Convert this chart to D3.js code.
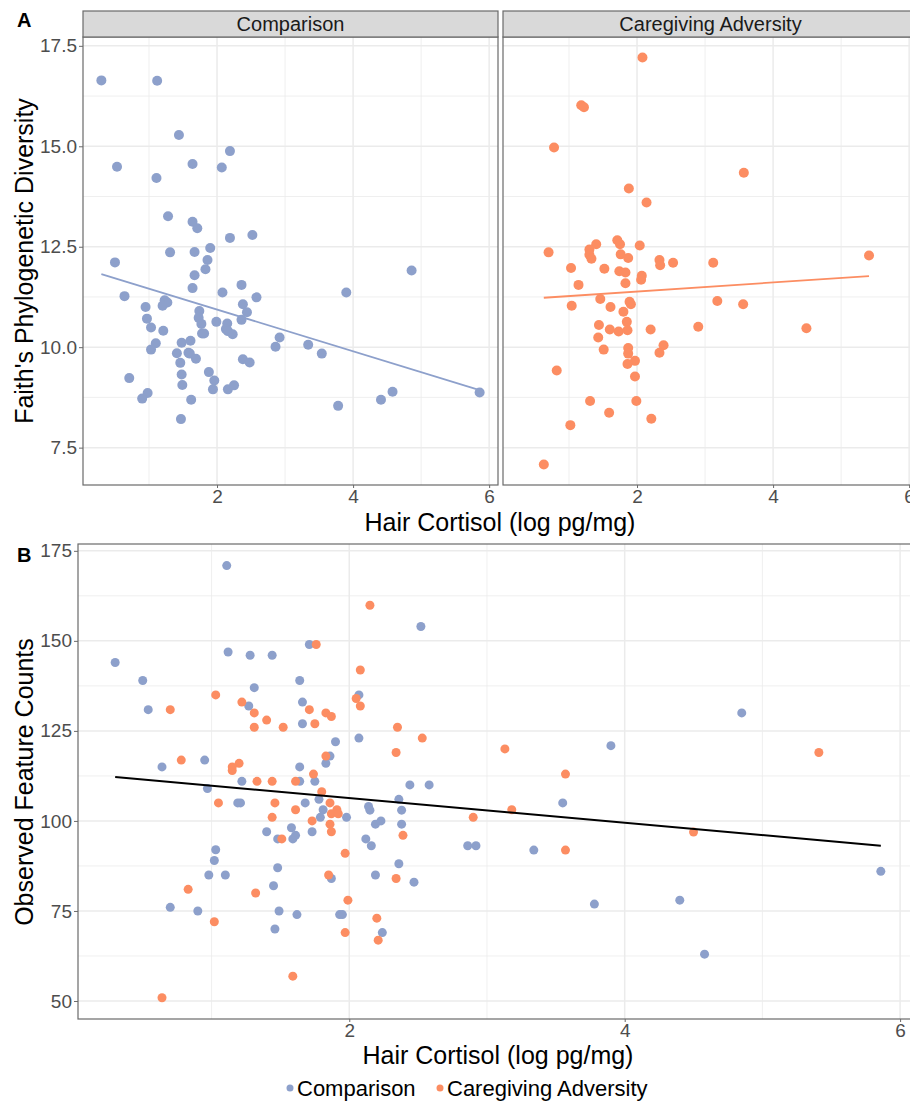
<!DOCTYPE html>
<html>
<head>
<meta charset="utf-8">
<script src="https://cdn.jsdelivr.net/npm/d3@7"></script>
<style>
  body { margin: 0; background: #fff; }
  svg { display: block; font-family: "Liberation Sans", Arial, sans-serif; }
</style>
</head>
<body>
<div id="chart"></div>
<script>
// hair cortisol (x) vs Faith's PD (y), panel A
var faithComparison = [
  [0.30,16.64],[1.12,16.63],[1.44,15.28],[2.19,14.88],[0.53,14.49],[1.64,14.56],[2.07,14.47],
  [1.11,14.21],[1.28,13.26],[1.64,13.12],[1.71,12.96],[2.19,12.72],[2.52,12.79],[1.90,12.47],
  [1.31,12.36],[1.67,12.37],[0.50,12.11],[1.86,12.17],[1.83,11.94],[1.67,11.79],[4.86,11.91],
  [1.64,11.47],[2.08,11.36],[3.90,11.36],[2.36,11.55],[2.58,11.24],[0.64,11.27],[1.23,11.17],
  [1.27,11.11],[1.20,11.03],[0.95,11.00],[2.38,11.07],[1.74,10.90],[2.44,10.87],[0.97,10.71],
  [1.73,10.73],[2.36,10.68],[1.77,10.58],[1.99,10.63],[2.15,10.59],[1.03,10.49],[2.13,10.45],
  [2.16,10.40],[2.23,10.32],[1.21,10.41],[1.78,10.34],[1.81,10.34],[2.92,10.24],[1.10,10.10],
  [1.48,10.11],[1.61,10.16],[1.03,9.94],[2.86,10.01],[3.34,10.06],[1.41,9.85],[1.58,9.86],
  [1.60,9.84],[3.54,9.84],[1.69,9.71],[1.46,9.61],[2.38,9.70],[2.48,9.62],[0.71,9.23],
  [1.48,9.32],[1.88,9.38],[1.96,9.17],[1.49,9.06],[1.94,8.95],[2.16,8.95],[2.25,9.05],
  [0.98,8.86],[0.90,8.72],[1.62,8.69],[4.58,8.89],[4.41,8.69],[3.78,8.54],[5.86,8.87],[1.47,8.21]
];
var faithAdversity = [
  [2.08,17.21],[1.18,16.02],[1.22,15.97],[0.78,14.97],[3.57,14.34],[1.88,13.95],[2.14,13.60],
  [1.71,12.66],[1.75,12.56],[1.40,12.56],[2.04,12.53],[1.30,12.43],[0.70,12.36],[1.30,12.30],
  [1.76,12.31],[1.33,12.20],[1.87,12.22],[2.33,12.17],[2.34,12.04],[2.53,12.10],[3.12,12.10],
  [5.41,12.28],[1.03,11.97],[1.52,11.95],[1.74,11.89],[1.83,11.86],[2.07,11.78],[2.06,11.68],
  [1.14,11.55],[1.83,11.59],[1.46,11.20],[1.89,11.13],[1.91,11.07],[3.18,11.15],[3.56,11.07],
  [1.04,11.03],[1.61,11.00],[1.80,10.88],[1.85,10.63],[1.44,10.55],[1.60,10.44],[1.73,10.39],
  [1.86,10.42],[2.20,10.44],[2.90,10.51],[4.49,10.47],[1.43,10.24],[2.39,10.05],[1.51,9.94],
  [1.87,9.98],[1.87,9.84],[2.33,9.86],[1.97,9.66],[1.86,9.58],[0.82,9.42],[1.97,9.27],
  [1.31,8.66],[1.99,8.66],[1.59,8.37],[2.21,8.22],[1.02,8.06],[0.63,7.08]
];
// fitted lines: [x, y] at each end
var faithFitComparison = [[0.30,11.82],[5.86,8.93]];
var faithFitAdversity = [[0.63,11.23],[5.41,11.77]];

// hair cortisol (x) vs observed feature counts (y), panel B
var countsComparison = [
  [1.11,170.9],[0.30,144.0],[0.50,139.0],[0.54,130.9],[1.12,146.9],[1.28,146.0],[1.44,146.0],
  [1.71,149.0],[1.64,139.0],[1.31,137.0],[2.07,135.0],[1.27,131.9],[1.66,133.0],[1.66,127.0],
  [2.52,154.0],[2.07,123.0],[1.90,122.0],[1.86,118.0],[1.83,116.0],[0.64,115.0],[0.95,116.9],
  [1.64,115.0],[1.22,111.0],[1.64,111.0],[1.75,111.0],[0.97,109.0],[2.44,110.0],[2.58,110.0],
  [1.19,105.0],[1.21,105.0],[1.68,105.0],[1.78,106.0],[2.36,106.0],[1.81,103.1],[2.14,104.0],
  [2.15,103.0],[2.38,103.0],[1.79,101.0],[1.98,101.0],[2.19,99.1],[2.23,100.0],[2.38,99.1],
  [1.40,97.0],[1.73,97.0],[1.58,98.1],[1.48,95.0],[1.59,95.0],[1.61,96.0],[2.12,95.0],
  [2.16,93.1],[1.03,92.0],[1.02,89.0],[0.98,85.0],[1.10,85.0],[2.19,85.0],[2.36,88.1],
  [1.87,84.0],[2.47,83.0],[1.48,87.0],[1.45,82.0],[0.70,76.0],[0.90,75.0],[1.49,75.0],
  [1.62,74.0],[1.93,74.0],[1.95,74.0],[1.46,70.0],[2.24,69.0],
  [2.86,93.1],[2.92,93.1],[3.34,91.9],[3.55,105.0],[3.90,120.9],[3.78,76.9],[4.40,78.0],
  [4.58,63.0],[4.85,130.0],[5.86,86.0]
];
var countsAdversity = [
  [2.15,159.9],[1.76,149.0],[2.08,141.9],[1.03,135.0],[2.05,134.0],[2.08,131.9],[0.70,130.9],
  [1.22,133.0],[1.31,130.0],[1.71,130.9],[1.83,130.0],[1.87,129.0],[1.40,128.0],[1.31,126.0],
  [1.52,126.0],[1.75,127.0],[2.35,126.0],[2.53,123.0],[2.34,119.0],[1.83,118.0],[0.78,116.9],
  [1.20,116.0],[1.15,115.0],[1.15,114.0],[1.74,113.0],[1.33,111.0],[1.44,111.0],[1.61,111.0],
  [1.80,108.1],[1.05,105.0],[1.46,105.0],[1.86,105.0],[1.61,103.1],[1.91,103.1],[1.44,101.0],
  [1.87,102.0],[1.92,102.0],[1.73,100.0],[1.86,99.1],[1.87,97.0],[2.39,96.0],[1.51,95.0],
  [1.97,91.0],[1.85,85.0],[2.34,84.0],[0.83,81.0],[1.32,80.0],[1.99,78.0],[1.02,72.0],
  [2.20,73.0],[1.97,69.0],[2.21,66.9],[1.59,56.9],[0.64,50.9],
  [2.90,101.0],[3.13,120.0],[3.18,103.1],[3.57,113.0],[3.57,91.9],[4.50,96.9],[5.41,119.0]
];
var countsFit = [[0.30,112.2],[5.86,93.1]];

var groups = ["Comparison", "Caregiving Adversity"];
var groupColors = ["#8DA0CB", "#FC8D62"];
var xTicks = [2, 4, 6];
var xMinor = [1, 3, 5];
var faithTicks = [7.5, 10.0, 12.5, 15.0, 17.5];
var faithMinor = [8.75, 11.25, 13.75, 16.25];
var countTicks = [50, 75, 100, 125, 150, 175];
var countMinor = [62.5, 87.5, 112.5, 137.5, 162.5];

var w = 910, h = 1104;
var tickColor = "#4d4d4d", gridColor = "#ebebeb", borderColor = "#6a6a6a";

var svg = d3.select("#chart").append("svg")
  .attr("width", w)
  .attr("height", h);

var line = d3.line();

// one ggplot-like panel: grid, points, fit, border, ticks
function drawPanel(opt) {
  var x = opt.x, y = opt.y;
  var g = svg.append("g");
  var x0 = x.range()[0], x1 = x.range()[1];
  var y0 = y.range()[0], y1 = y.range()[1];

  g.selectAll("line.minx").data(xMinor).enter().append("line")
    .attr("x1", x).attr("x2", x).attr("y1", y0).attr("y2", y1)
    .attr("stroke", gridColor).attr("stroke-width", 0.8);
  g.selectAll("line.miny").data(opt.minor).enter().append("line")
    .attr("x1", x0).attr("x2", x1).attr("y1", y).attr("y2", y)
    .attr("stroke", gridColor).attr("stroke-width", 0.8);
  g.selectAll("line.majx").data(xTicks).enter().append("line")
    .attr("x1", x).attr("x2", x).attr("y1", y0).attr("y2", y1)
    .attr("stroke", gridColor).attr("stroke-width", 1.5);
  g.selectAll("line.majy").data(opt.ticks).enter().append("line")
    .attr("x1", x0).attr("x2", x1).attr("y1", y).attr("y2", y)
    .attr("stroke", gridColor).attr("stroke-width", 1.5);

  opt.series.forEach(function (s) {
    g.selectAll(null).data(s.pts).enter().append("circle")
      .attr("cx", function (d) { return x(d[0]); })
      .attr("cy", function (d) { return y(d[1]); })
      .attr("r", opt.r)
      .attr("fill", s.color);
  });

  opt.fits.forEach(function (f) {
    g.append("path")
      .attr("d", line(f.pts.map(function (d) { return [x(d[0]), y(d[1])]; })))
      .attr("fill", "none")
      .attr("stroke", f.color)
      .attr("stroke-width", f.width);
  });

  g.append("rect")
    .attr("x", x0).attr("y", y1)
    .attr("width", x1 - x0).attr("height", y0 - y1)
    .attr("fill", "none").attr("stroke", borderColor).attr("stroke-width", 1.2);

  // x axis ticks
  var xa = g.append("g").attr("transform", "translate(0," + y0 + ")")
    .call(d3.axisBottom(x).tickValues(xTicks).tickSize(3).tickPadding(2).tickFormat(d3.format("d")));
  xa.select(".domain").remove();
  xa.selectAll("line").attr("stroke", borderColor);
  xa.selectAll("text").attr("fill", tickColor).attr("font-size", 19).attr("font-family", null);

  if (opt.yAxis) {
    var ya = g.append("g").attr("transform", "translate(" + x0 + ",0)")
      .call(d3.axisLeft(y).tickValues(opt.ticks).tickSize(4).tickPadding(2).tickFormat(opt.fmt));
    ya.select(".domain").remove();
    ya.selectAll("line").attr("stroke", borderColor);
    ya.selectAll("text").attr("fill", tickColor).attr("font-size", 19).attr("font-family", null);
  }
  return g;
}

// ---- Panel A ----
var yA = d3.scaleLinear().domain([6.57, 17.72]).range([485, 37]);
var xA1 = d3.scaleLinear().domain([0.03, 6.13]).range([83, 498]);
var xA2 = d3.scaleLinear().domain([0.03, 6.13]).range([503, 918]);

drawPanel({
  x: xA1, y: yA, ticks: faithTicks, minor: faithMinor, fmt: d3.format(".1f"), yAxis: true, r: 5,
  series: [{ pts: faithComparison, color: groupColors[0] }],
  fits: [{ pts: faithFitComparison, color: groupColors[0], width: 1.8 }]
});
drawPanel({
  x: xA2, y: yA, ticks: faithTicks, minor: faithMinor, fmt: d3.format(".1f"), yAxis: false, r: 5,
  series: [{ pts: faithAdversity, color: groupColors[1] }],
  fits: [{ pts: faithFitAdversity, color: groupColors[1], width: 1.8 }]
});

// facet strips
[xA1, xA2].forEach(function (x, i) {
  var r = x.range();
  svg.append("rect")
    .attr("x", r[0]).attr("y", 11)
    .attr("width", r[1] - r[0]).attr("height", 26)
    .attr("fill", "#d9d9d9").attr("stroke", borderColor).attr("stroke-width", 1.2);
  svg.append("text")
    .attr("x", (r[0] + r[1]) / 2).attr("y", 31)
    .attr("text-anchor", "middle")
    .attr("font-size", 20).attr("fill", "#1a1a1a")
    .text(groups[i]);
});

// ---- Panel B ----
var yB = d3.scaleLinear().domain([45, 176.9]).range([1019, 544]);
var xB = d3.scaleLinear().domain([0.03, 6.13]).range([78, 918]);

drawPanel({
  x: xB, y: yB, ticks: countTicks, minor: countMinor, fmt: d3.format("d"), yAxis: true, r: 4.5,
  series: [
    { pts: countsComparison, color: groupColors[0] },
    { pts: countsAdversity, color: groupColors[1] }
  ],
  fits: [{ pts: countsFit, color: "#000", width: 2 }]
});

// ---- titles ----
svg.append("text").attr("x", 17).attr("y", 27)
  .attr("font-size", 20).attr("font-weight", "bold").text("A");
svg.append("text").attr("x", 17).attr("y", 562)
  .attr("font-size", 20).attr("font-weight", "bold").text("B");

svg.append("text")
  .attr("transform", "translate(33,261) rotate(-90)")
  .attr("text-anchor", "middle").attr("font-size", 25).attr("fill", "#000")
  .text("Faith's Phylogenetic Diversity");
svg.append("text")
  .attr("transform", "translate(33,782) rotate(-90)")
  .attr("text-anchor", "middle").attr("font-size", 25).attr("fill", "#000")
  .text("Observed Feature Counts");

svg.append("text")
  .attr("x", 500).attr("y", 531)
  .attr("text-anchor", "middle").attr("font-size", 25)
  .text("Hair Cortisol (log pg/mg)");
svg.append("text")
  .attr("x", 498).attr("y", 1064)
  .attr("text-anchor", "middle").attr("font-size", 25)
  .text("Hair Cortisol (log pg/mg)");

// legend
var legend = svg.append("g").attr("transform", "translate(0,1088)");
var legX = [290, 440];
groups.forEach(function (name, i) {
  legend.append("circle").attr("cx", legX[i]).attr("cy", 0).attr("r", 3.5).attr("fill", groupColors[i]);
  legend.append("text").attr("x", legX[i] + 7).attr("y", 8)
    .attr("font-size", 22).text(name);
});
</script>
</body>
</html>
